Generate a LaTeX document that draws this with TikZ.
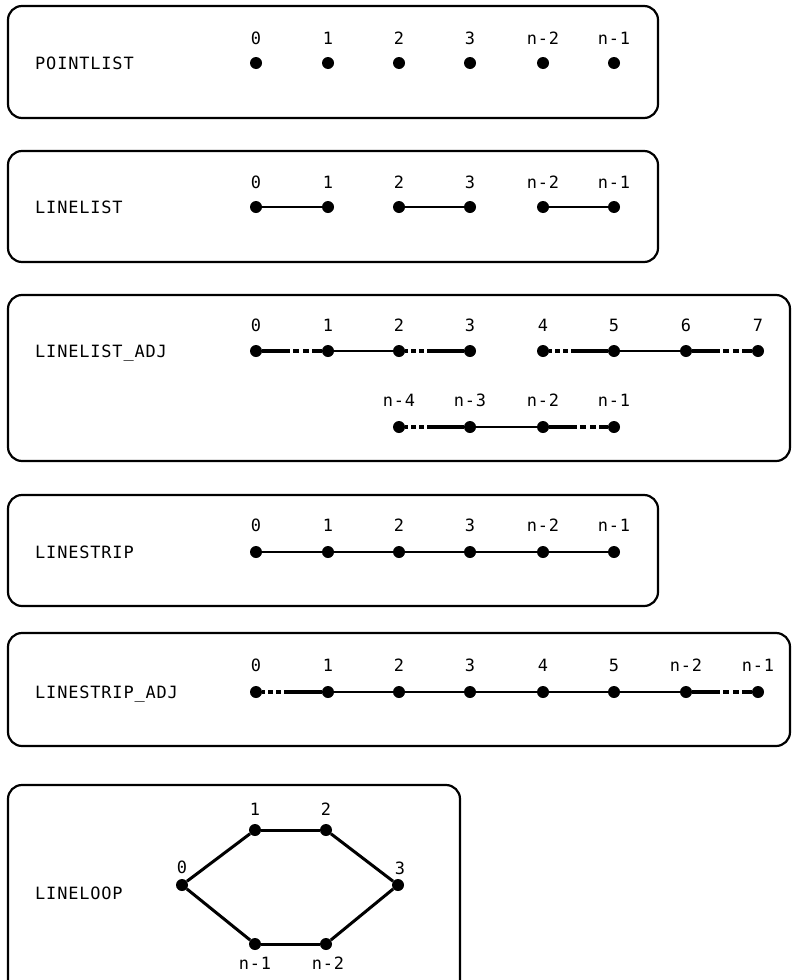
\documentclass[tikz,border=0pt]{standalone}
\usepackage{fontspec}
\newfontfamily\pixfont[LetterSpace=5]{DejaVu Sans Mono}
\begin{document}
\begin{tikzpicture}[x=1bp,y=-1bp,
  frame/.style={draw=black, line width=2.2bp, rounded corners=14bp},
  dot/.style={circle, fill=black, inner sep=0pt, minimum size=12bp},
  title/.style={anchor=base west, inner sep=0pt, font=\pixfont\fontsize{17}{17}\selectfont},
  num/.style={inner sep=0pt, text height=12bp, text depth=0pt, font=\pixfont\fontsize{17}{17}\selectfont},
  seg/.style={line width=2.2bp},
  thinseg/.style={line width=1.2bp},
  adjA/.style={line width=3.5bp, dash pattern=on 28bp off 3bp on 6bp off 4bp on 6bp off 3bp on 40bp},
  adjB/.style={line width=3.5bp, dash pattern=on 3bp off 3bp on 5bp off 3bp on 5bp off 3bp on 60bp},
  loopseg/.style={line width=3bp}]
\useasboundingbox (0,0) rectangle (794,980);

% ---------- frames
\draw[frame] (8,6) rectangle (658,118);
\draw[frame] (8,151) rectangle (658,262);
\draw[frame] (8,295) rectangle (790,461);
\draw[frame] (8,495) rectangle (658,606);
\draw[frame] (8,633) rectangle (790,746);
\draw[frame] (8,785) rectangle (460,1000);

% ---------- titles
\node[title] (t1) at (35,69) {POINTLIST};
\node[title] (t2) at (35,213) {LINELIST};
\node[title] (t3) at (35,357) {LINELIST\_ADJ};
\node[title] (t4) at (35,558) {LINESTRIP};
\node[title] (t5) at (35,698) {LINESTRIP\_ADJ};
\node[title] (t6) at (35,899) {LINELOOP};

% ---------- POINTLIST
\foreach \x/\t [count=\i from 0] in {256/0,328/1,399/2,470/3,543/n-2,614/n-1}{
  \node[dot] (a\i) at (\x,63) {};
  \node[num] (al\i) at (\x,38) {\t};
}

% ---------- LINELIST
\foreach \x/\t [count=\i from 0] in {256/0,328/1,399/2,470/3,543/n-2,614/n-1}{
  \node[dot] (b\i) at (\x,207) {};
  \node[num] (bl\i) at (\x,182) {\t};
}
\draw[seg] (b0) -- (b1);
\draw[seg] (b2) -- (b3);
\draw[seg] (b4) -- (b5);

% ---------- LINELIST_ADJ
\foreach \x/\t [count=\i from 0] in {256/0,328/1,399/2,470/3,543/4,614/5,686/6,758/7}{
  \node[dot] (c\i) at (\x,351) {};
  \node[num] (cl\i) at (\x,325) {\t};
}
\foreach \x/\t [count=\i from 0] in {399/n-4,470/n-3,543/n-2,614/n-1}{
  \node[dot] (d\i) at (\x,427) {};
  \node[num] (dl\i) at (\x,400) {\t};
}
\draw[adjA] (c0) -- (c1);
\draw[thinseg] (c1) -- (c2);
\draw[adjB] (c2) -- (c3);
\draw[adjB] (c4) -- (c5);
\draw[thinseg] (c5) -- (c6);
\draw[adjA] (c6) -- (c7);
\draw[adjB] (d0) -- (d1);
\draw[thinseg] (d1) -- (d2);
\draw[adjA] (d2) -- (d3);

% ---------- LINESTRIP
\foreach \x/\t [count=\i from 0] in {256/0,328/1,399/2,470/3,543/n-2,614/n-1}{
  \node[dot] (e\i) at (\x,552) {};
  \node[num] (el\i) at (\x,525) {\t};
}
\draw[seg] (e0) -- (e1) -- (e2) -- (e3) -- (e4) -- (e5);

% ---------- LINESTRIP_ADJ
\foreach \x/\t [count=\i from 0] in {256/0,328/1,399/2,470/3,543/4,614/5,686/n-2,758/n-1}{
  \node[dot] (f\i) at (\x,692) {};
  \node[num] (fl\i) at (\x,665) {\t};
}
\draw[adjB] (f0) -- (f1);
\draw[seg] (f1) -- (f2) -- (f3) -- (f4) -- (f5) -- (f6);
\draw[adjA] (f6) -- (f7);

% ---------- LINELOOP
\node[dot] (g0) at (182,885) {};
\node[dot] (g1) at (255,830) {};
\node[dot] (g2) at (326,830) {};
\node[dot] (g3) at (398,885) {};
\node[dot] (g4) at (326,944) {};
\node[dot] (g5) at (255,944) {};
\node[num] (gl0) at (182,867) {0};
\node[num] (gl1) at (255,809) {1};
\node[num] (gl2) at (326,809) {2};
\node[num] (gl3) at (400,868) {3};
\node[num] (gl4) at (328,963) {n-2};
\node[num] (gl5) at (255,963) {n-1};
\draw[loopseg] (g0) -- (g1);
\draw[loopseg] (g1) -- (g2);
\draw[loopseg] (g2) -- (g3);
\draw[loopseg] (g3) -- (g4);
\draw[loopseg] (g4) -- (g5);
\draw[loopseg] (g5) -- (g0);
\end{tikzpicture}
\end{document}
